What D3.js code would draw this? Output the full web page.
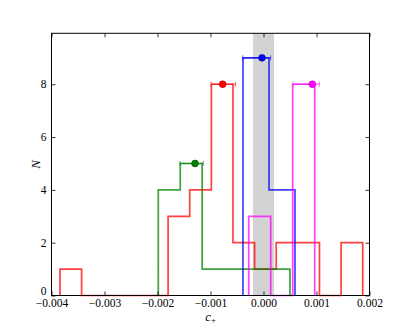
<!DOCTYPE html>
<html><head><meta charset="utf-8">
<script src="https://cdn.jsdelivr.net/npm/d3@7"></script>
<style>body{margin:0;background:#fff}svg{display:block}text{font-family:"Liberation Serif","DejaVu Serif",serif}</style>
</head><body>
<script>
// ---- data ----
const xTicks = [-0.004, -0.003, -0.002, -0.001, 0.000, 0.001, 0.002];
const yTicks = [0, 2, 4, 6, 8];
const band = [-0.0002, 0.0002];

const redEdges = [-0.00384, -0.003432, -0.003024, -0.002616, -0.002208, -0.0018, -0.001392, -0.000984, -0.000576, -0.000168, 0.00024, 0.000648, 0.001056, 0.001464, 0.001872];
const redCounts = [1, 0, 0, 0, 0, 3, 4, 8, 2, 1, 2, 2, 0, 2];
const greenEdges = [-0.001985, -0.001571, -0.001157, -0.000743, -0.000329, 0.000085, 0.000499];
const greenCounts = [4, 5, 1, 1, 1, 1];
const blueEdges = [-0.000387, 0.000104, 0.000594];
const blueCounts = [9, 4];
const magentaEdges = [-0.000279, 0.000136, 0.000551, 0.000966];
const magentaCounts = [3, 0, 8];

// summary points: centre, y, error low, error high
const pointNames = ["red", "green", "blue", "magenta"];
const pointX = [-0.00077, -0.001292, -0.000028, 0.000921];
const pointY = [8, 5, 9, 8];
const pointLo = [-0.00099, -0.001575, -0.000392, 0.000557];
const pointHi = [-0.000525, -0.001136, 0.000136, 0.001053];

const colors = {red: "#ff0000", green: "#008000", blue: "#0000ff", magenta: "#ff00ff"};
const edgeColors = {red: "#b00000", green: "#004000", blue: "#0000a0", magenta: "#b000b0"};

// ---- layout ----
const W = 411, H = 329;
const L = 51.5, R = 369.5, T = 33.3, B = 295.5;
const x = d3.scaleLinear().domain([-0.004, 0.002]).range([L, R]);
const y = d3.scaleLinear().domain([0, 9.93]).range([B, T]);

const svg = d3.select("body").append("svg").attr("width", W).attr("height", H);

// grey band
svg.append("rect").attr("x", x(band[0])).attr("y", T)
  .attr("width", x(band[1]) - x(band[0])).attr("height", B - T)
  .attr("fill", "#d3d3d3");

function stepPath(edges, counts) {
  const pts = [[edges[0], 0]];
  counts.forEach((c, i) => { pts.push([edges[i], c]); pts.push([edges[i + 1], c]); });
  pts.push([edges[edges.length - 1], 0]);
  return d3.line().x(d => x(d[0])).y(d => y(d[1]))(pts);
}

const hists = [
  ["red", redEdges, redCounts],
  ["green", greenEdges, greenCounts],
  ["blue", blueEdges, blueCounts],
  ["magenta", magentaEdges, magentaCounts]
];
const hg = svg.append("g");
hists.forEach(([name, e, c]) => {
  hg.append("path").attr("d", stepPath(e, c)).attr("fill", "none")
    .attr("stroke", colors[name]).attr("stroke-opacity", 0.75).attr("stroke-width", 1.7);
});

// points with horizontal error bars
const pg = svg.append("g");
pointNames.forEach((name, i) => {
  const yy = y(pointY[i]);
  pg.append("line").attr("x1", x(pointLo[i])).attr("x2", x(pointHi[i]))
    .attr("y1", yy).attr("y2", yy).attr("stroke", colors[name]).attr("stroke-opacity", 0.6).attr("stroke-width", 1.2);
  [pointLo[i], pointHi[i]].forEach(v => {
    pg.append("line").attr("x1", x(v)).attr("x2", x(v)).attr("y1", yy - 2.5).attr("y2", yy + 2.5)
      .attr("stroke", colors[name]).attr("stroke-opacity", 0.6).attr("stroke-width", 1);
  });
  pg.append("circle").attr("cx", x(pointX[i])).attr("cy", yy).attr("r", 3.4)
    .attr("fill", colors[name]).attr("stroke", edgeColors[name]).attr("stroke-width", 0.6);
});

// frame
svg.append("rect").attr("x", L).attr("y", T).attr("width", R - L).attr("height", B - T)
  .attr("fill", "none").attr("stroke", "#000").attr("stroke-width", 1);

// axes with inward ticks
const fmtX = d3.format(".3f");
const xb = svg.append("g").attr("transform", `translate(0,${B})`)
  .call(d3.axisBottom(x).tickValues(xTicks).tickFormat(fmtX).tickSizeInner(-4).tickSizeOuter(0).tickPadding(3.5));
const xt = svg.append("g").attr("transform", `translate(0,${T})`)
  .call(d3.axisTop(x).tickValues(xTicks).tickSizeInner(-4).tickSizeOuter(0).tickFormat(""));
const yl = svg.append("g").attr("transform", `translate(${L},0)`)
  .call(d3.axisLeft(y).tickValues(yTicks).tickFormat(d3.format("d")).tickSizeInner(-4).tickSizeOuter(0).tickPadding(5));
const yr = svg.append("g").attr("transform", `translate(${R},0)`)
  .call(d3.axisRight(y).tickValues(yTicks).tickSizeInner(-4).tickSizeOuter(0).tickFormat(""));
[xb, xt, yl, yr].forEach(g => {
  g.select(".domain").remove();
  g.selectAll("line").attr("stroke", "#000").attr("stroke-width", 0.8);
  g.selectAll("text").attr("font-size", 11.5).attr("fill", "#000")
    .attr("font-family", "Liberation Serif, DejaVu Serif, serif");
});
// nudge the "0" label up slightly so it clears the x tick labels
yl.selectAll(".tick").filter(d => d === 0).select("text").attr("dy", "-0.05em");

// axis labels
const xl = svg.append("text").attr("x", (L + R) / 2).attr("y", 320.5).attr("text-anchor", "middle")
  .attr("font-size", 12.5).attr("fill", "#000");
xl.append("tspan").attr("font-style", "italic").text("c");
xl.append("tspan").attr("font-size", 8.5).attr("dy", 2.5).text("+");

svg.append("text").attr("transform", `translate(40,${(T + B) / 2}) rotate(-90)`)
  .attr("text-anchor", "middle").attr("font-size", 13).attr("font-style", "italic").attr("fill", "#000").text("N");
</script>
</body></html>
